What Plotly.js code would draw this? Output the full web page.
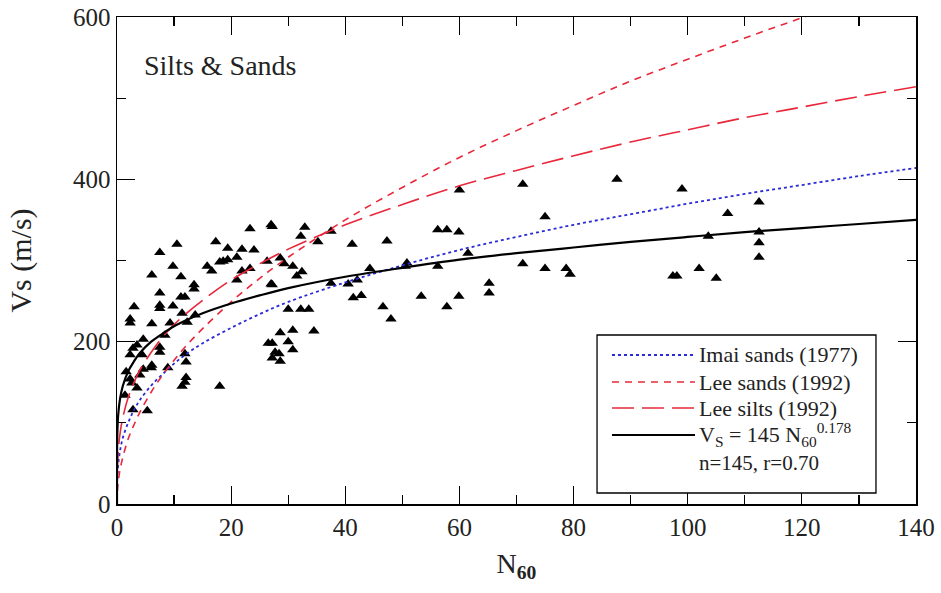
<!DOCTYPE html>
<html>
<head>
<meta charset="utf-8">
<script src="https://cdn.plot.ly/plotly-3.0.1.min.js"></script>
<style>html,body{margin:0;padding:0;background:#fff;}#chart{width:941px;height:593px;}</style>
</head>
<body>
<div id="chart"></div>
<script>
// Measured data points (N60, Vs in m/s)
var obsN = [27.0,23.3,10.5,17.3,7.5,19.4,21.9,24.0,18.0,18.6,19.4,21.0,9.8,15.8,16.6,6.1,11.2,13.5,13.5,21.9,23.3,21.0,26.3,27.0,
  7.5,11.2,11.9,7.5,7.5,9.8,3.0,11.4,13.7,2.3,2.3,6.1,9.3,12.3,8.4,4.6,3.5,2.8,7.5,7.5,2.3,4.4,6.1,6.0,4.6,8.9,11.9,12.1,
  2.3,2.6,3.5,12.1,11.9,11.4,18.0,2.8,5.3,4.0,1.4,1.6,
  32.9,32.2,37.5,35.2,41.2,47.3,56.2,57.8,59.9,27.2,28.6,29.3,30.8,32.4,31.5,27.2,44.3,50.8,50.5,61.5,56.2,37.5,40.5,42.1,
  41.4,42.8,65.2,65.2,53.3,59.9,46.6,57.8,48.0,30.0,32.2,33.6,28.6,30.8,34.5,26.5,27.2,30.0,30.8,27.7,28.4,28.6,27.2,60.0,
  71.1,87.6,99.0,75.0,112.5,107.0,103.6,112.5,112.5,112.5,71.1,75.0,78.7,79.4,97.4,98.1,102.0,105.0];
var obsVs = [344,339,320,323,310,315,314,313,298,299,301,304,293,293,287,282,280,270,265,287,290,276,299,271,
  260,255,255,245,241,244,243,235,233,228,223,222,223,224,208,203,196,192,193,187,184,184,171,168,166,168,185,175,
  154,149,143,156,150,145,145,116,115,159,134,163,
  341,330,336,323,320,324,338,338,335,342,303,296,293,286,281,270,290,297,293,309,293,272,271,276,
  254,257,272,260,256,256,243,243,228,240,240,240,211,214,213,198,198,200,190,187,185,176,180,387,
  394,400,388,354,372,358,330,335,322,304,296,290,290,283,281,281,290,278];

// Curves (N60 vs Vs)
var curveN = [0,0.05,0.2,0.5,1,2,3,4,6,8,10,12,15,20,25,30,40,50,60,70,80,90,100,110,120,130,140];
var imaiVs = [0,30,47,64,81,101,116,128,146,160,173,184,198,217,234,249,273,294,313,329,344,357,370,382,393,404,414];
var leeSandsVs = [0,13,26,41,57,81,98,113,138,159,177,194,216,249,278,304,350,390,427,460,491,521,548,574,599,623,645];
var leeSiltsVs = [0,40,63,85,106,132,150,165,187,206,221,234,251,276,296,314,344,369,392,411,429,446,461,476,489,502,514];
var fitVs = [0,85,109,128,145,164,176,186,200,210,219,226,235,247,257,266,280,291,301,309,316,323,329,335,340,345,350];

var xTicks = [0,20,40,60,80,100,120,140];
var yTicks = [0,200,400,600];

var seriesNames = ['Imai sands (1977)', 'Lee sands (1992)', 'Lee silts (1992)',
  'V<sub>S</sub> = 145 N<sub>60</sub><sup>0.178</sup>'];
var fitNote = 'n=145, r=0.70';
var panelLabel = 'Silts &amp; Sands';

var serif = '"Liberation Serif", "Times New Roman", serif';
var styles = [
  {color: '#2b2bd6', width: 1.8, dash: 'dot'},
  {color: '#e8283a', width: 1.6, dash: '7px,6px'},
  {color: '#e8283a', width: 1.6, dash: '22px,8px'},
  {color: '#000000', width: 2.2, dash: 'solid'}
];
var series = [imaiVs, leeSandsVs, leeSiltsVs, fitVs];

var traces = [
  {x: obsN, y: obsVs, type: 'scatter', mode: 'markers', showlegend: false,
   marker: {symbol: 'triangle-up', size: 10, color: '#000'}}
];
series.forEach(function (vs, i) {
  traces.push({x: curveN, y: vs, type: 'scatter', mode: 'lines', name: seriesNames[i], showlegend: false,
    line: {color: styles[i].color, width: styles[i].width, dash: styles[i].dash, shape: 'spline'}});
});

// legend box drawn as layout decoration
var legX0 = 0.6008, legX1 = 0.9499, legY0 = 0.0226, legY1 = 0.347;
var sampleX0 = 0.6195, sampleX1 = 0.7234, textX = 0.7259;
var rowY = [0.306, 0.2505, 0.197, 0.1417];
var noteY = 0.0842;

var shapes = [{type: 'rect', xref: 'paper', yref: 'paper', x0: legX0, x1: legX1, y0: legY0, y1: legY1,
  line: {color: '#000', width: 1.3}, fillcolor: '#fff', layer: 'above'}];
var annotations = [
  {text: panelLabel, xref: 'paper', yref: 'paper', x: 0.031, y: 0.9, xanchor: 'left', yanchor: 'middle',
   showarrow: false, font: {family: serif, size: 28, color: '#222'}}
];
seriesNames.forEach(function (nm, i) {
  shapes.push({type: 'line', xref: 'paper', yref: 'paper', x0: sampleX0, x1: sampleX1, y0: rowY[i], y1: rowY[i],
    line: {color: styles[i].color, width: styles[i].width, dash: styles[i].dash}, layer: 'above'});
  annotations.push({text: nm, xref: 'paper', yref: 'paper', x: textX, y: rowY[i], xanchor: 'left', yanchor: 'middle',
    showarrow: false, font: {family: serif, size: 22, color: '#222'}});
});
annotations.push({text: fitNote, xref: 'paper', yref: 'paper', x: textX, y: noteY, xanchor: 'left', yanchor: 'middle',
  showarrow: false, font: {family: serif, size: 21, color: '#222'}});

var layout = {
  width: 941, height: 593,
  margin: {l: 117, r: 25, t: 17, b: 89},
  paper_bgcolor: '#fff', plot_bgcolor: '#fff',
  font: {family: serif, color: '#000', size: 24},
  showlegend: false,
  xaxis: {
    range: [0, 140], tickvals: xTicks, ticks: 'inside', ticklen: 18, tickwidth: 1.2, tickcolor: '#000',
    showline: true, linecolor: '#000', linewidth: 1.5, mirror: 'allticks',
    showgrid: false, zeroline: false,
    minor: {dtick: 10, ticks: 'inside', ticklen: 9, tickwidth: 1.2, tickcolor: '#000', showgrid: false},
    tickfont: {family: serif, size: 25, color: '#222'},
    title: {text: 'N<sub><b>60</b></sub>', font: {family: serif, size: 28, color: '#222'}, standoff: 14}
  },
  yaxis: {
    range: [0, 600], tickvals: yTicks, ticks: 'inside', ticklen: 18, tickwidth: 1.2, tickcolor: '#000',
    showline: true, linecolor: '#000', linewidth: 1.5, mirror: 'allticks',
    showgrid: false, zeroline: false,
    minor: {dtick: 100, ticks: 'inside', ticklen: 9, tickwidth: 1.2, tickcolor: '#000', showgrid: false},
    tickfont: {family: serif, size: 25, color: '#222'},
    title: {text: 'Vs (m/s)', font: {family: serif, size: 30, color: '#222'}, standoff: 32}
  },
  shapes: shapes,
  annotations: annotations
};

Plotly.newPlot('chart', traces, layout, {displayModeBar: false, staticPlot: true});
</script>
</body>
</html>
